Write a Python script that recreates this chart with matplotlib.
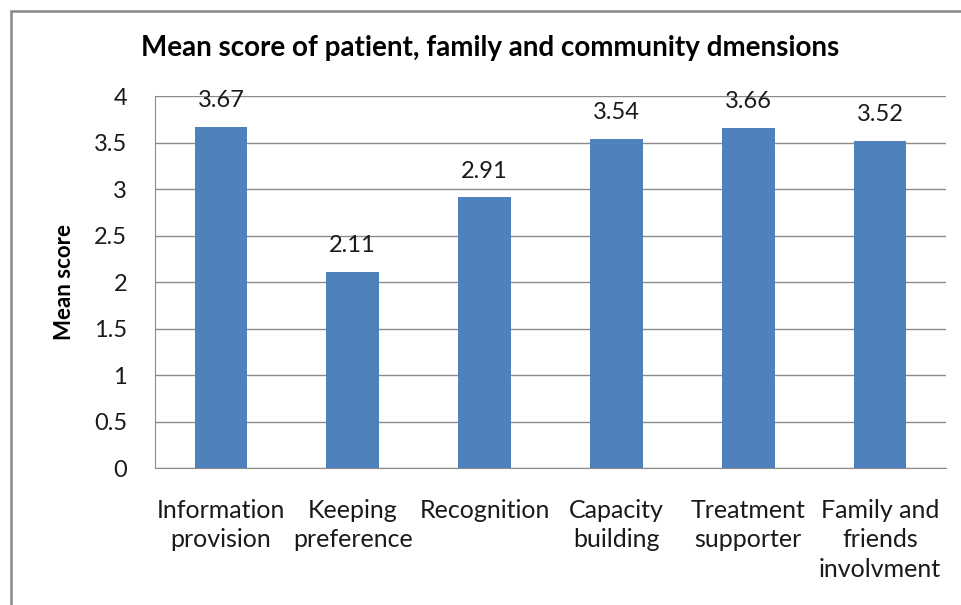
import matplotlib
matplotlib.use("Agg")
from matplotlib import pyplot as plt
from matplotlib.patches import Rectangle

categories = ['Information\nprovision', 'Keeping\npreference', 'Recognition',
              'Capacity\nbuilding', 'Treatment\nsupporter', 'Family and\nfriends\ninvolvment']
mean_scores = [3.67, 2.11, 2.91, 3.54, 3.66, 3.52]
y_ticks = [0, 0.5, 1, 1.5, 2, 2.5, 3, 3.5, 4]

plt.rcParams['font.family'] = ['Lato', 'DejaVu Sans']


def create_bar_plot(x_values, y_values):
    fig = plt.figure(figsize=(9.62, 6.05), dpi=100)
    ax = fig.add_axes([0.1611, 0.2264, 0.8223, 0.6149])
    x_numbers = list(range(len(x_values)))
    bars = ax.bar(x_numbers, y_values, 0.4, color='#4f81bd', zorder=3)
    for bar, v in zip(bars, y_values):
        ax.text(bar.get_x() + bar.get_width() / 2, v + 0.28, f'{v:.2f}',
                ha='center', va='center', fontsize=17, color='#1a1a1a')
    ax.set_xlim(-0.5, len(x_values) - 0.5)
    ax.set_ylim(0, 4)
    ax.set_yticks(y_ticks)
    ax.set_yticklabels([f'{t:g}' for t in y_ticks], fontsize=17, color='#1a1a1a')
    ax.set_xticks(x_numbers)
    ax.set_xticklabels(x_values, fontsize=18, linespacing=1.36, va='top', color='#1a1a1a')
    ax.tick_params(axis='y', length=0, pad=20)
    ax.tick_params(axis='x', length=0, pad=22)
    ax.grid(axis='y', color='#8c8c8c', linewidth=1, zorder=0)
    ax.spines['right'].set_visible(False)
    ax.spines['top'].set_visible(False)
    for s in ('left', 'bottom'):
        ax.spines[s].set_color('#8c8c8c')
    ax.set_ylabel('Mean score', fontsize=16, fontweight='bold', labelpad=14)
    fig.text(0.509, 0.921, 'Mean score of patient, family and community dmensions',
             ha='center', va='center', fontsize=20, fontweight='bold')
    fig.patches.append(Rectangle((11 / 962, -0.1), 1.2, 1.1 - 11 / 605,
                                 transform=fig.transFigure, fill=False,
                                 edgecolor='#888888', linewidth=1.8))
    return fig


if __name__ == '__main__':
    fig = create_bar_plot(categories, mean_scores)
    fig.savefig('out.png', dpi=100)
